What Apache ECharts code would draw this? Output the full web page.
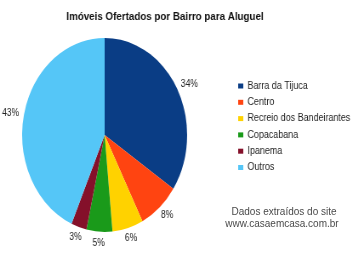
<!DOCTYPE html>
<html>
<head>
<meta charset="utf-8">
<script src="https://cdn.jsdelivr.net/npm/echarts@6/dist/echarts.min.js"></script>
<style>
  html, body { margin: 0; padding: 0; background: #fff; }
  #wrap { position: relative; width: 356px; height: 256px; overflow: hidden; }
  #main { position: absolute; left: 0; top: 0; width: 356px; height: 256px; }
  #pie { position: absolute; left: 0; top: 0; width: 419px; height: 256px;
         transform: scaleX(0.8505); transform-origin: 0 0; pointer-events: none; }
</style>
</head>
<body>
<div id="wrap">
  <div id="main"></div>
  <div id="pie"></div>
</div>
<script>
const titleText = 'Imóveis Ofertados por Bairro para Aluguel';
const categories = ['Barra da Tijuca', 'Centro', 'Recreio dos Bandeirantes', 'Copacabana', 'Ipanema', 'Outros'];
const values = [34, 8, 6, 5, 3, 43];
const colors = ['#0A3D85', '#FF4411', '#FFD200', '#1A9A1A', '#84102A', '#55C6F7'];
const sourceLines = ['Dados extraídos do site', 'www.casaemcasa.com.br'];

const pieData = categories.map((n, i) => ({ name: n, value: values[i] }));
const total = values.reduce((a, b) => a + b, 0);
const midAngles = [];
{
  let acc = 0;
  values.forEach(v => { midAngles.push((acc + v / 2) / total * 2 * Math.PI); acc += v; });
}

const PCX = 123, PCY = 135, PR = 97, GAP = 6;

// Main chart: source text
const main = echarts.init(document.getElementById('main'), null, { renderer: 'canvas' });
main.setOption({
  backgroundColor: '#ffffff',
  animation: false,
  graphic: [
    { type: 'text', x: 284, y: 212, style: { text: sourceLines[0], align: 'center', verticalAlign: 'middle',
      font: '10px "Liberation Sans", Arial, sans-serif', fill: '#4a4a4a' } },
    { type: 'text', x: 282, y: 224.5, style: { text: sourceLines[1], align: 'center', verticalAlign: 'middle',
      font: '10px "Liberation Sans", Arial, sans-serif', fill: '#4a4a4a' } }
  ]
});

// Pie chart, title and legend (horizontally scaled to form the ellipse)
const pie = echarts.init(document.getElementById('pie'), null, { renderer: 'canvas' });
pie.setOption({
  backgroundColor: 'transparent',
  animation: false,
  color: colors,
  graphic: [
    { type: 'text', x: 194, y: 17, style: { text: titleText, align: 'center', verticalAlign: 'middle',
      font: 'bold 11.5px "Liberation Sans", Arial, sans-serif', fill: '#111' } }
  ],
  legend: {
    orient: 'vertical',
    left: 280,
    top: 80,
    icon: 'rect',
    itemWidth: 6,
    itemHeight: 5,
    itemGap: 4.3,
    padding: 0,
    data: categories,
    textStyle: { fontFamily: 'Liberation Sans, Arial, sans-serif', fontSize: 10.5, color: '#222', lineHeight: 12 }
  },
  series: [{
    type: 'pie',
    center: [PCX, PCY],
    radius: PR,
    startAngle: 90,
    clockwise: true,
    silent: true,
    label: {
      show: true,
      position: 'outside',
      formatter: '{c}%',
      overflow: 'none',
      fontFamily: 'Liberation Sans, Arial, sans-serif',
      fontSize: 10,
      color: '#222'
    },
    labelLine: { show: false, length: 0, length2: 0 },
    labelLayout: function (p) {
      const a = midAngles[p.dataIndex];
      const dx = Math.sin(a), dy = -Math.cos(a);
      const w = p.labelRect.width, h = p.labelRect.height;
      const px = PCX + (PR + GAP) * dx, py = PCY + (PR + GAP) * dy;
      return { x: px + dx * w / 2, y: py + dy * h / 2, align: 'center', verticalAlign: 'middle' };
    },
    data: pieData
  }]
});
</script>
</body>
</html>
